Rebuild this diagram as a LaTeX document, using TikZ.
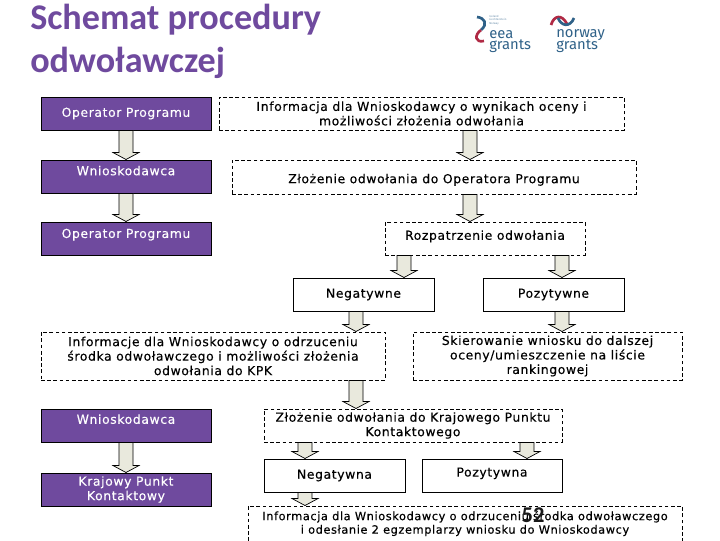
\documentclass[tikz,border=0pt]{standalone}
\usepackage{fontspec}
\usepackage{tikz}
\usetikzlibrary{arrows.meta,calc}
\setmainfont[LetterSpace=5,FakeBold=0.25]{DejaVu Sans}
\newfontfamily\titlefont{Carlito}
\newfontfamily\logofont{Fira Sans}
\definecolor{schematpurple}{HTML}{6F4A9E}
\definecolor{arrowfill}{HTML}{E9E9DD}
\definecolor{logoblue}{HTML}{2F6188}
\definecolor{logored}{HTML}{B02A45}
\tikzset{
    boxsize/.style 2 args={minimum width=#1*0.025cm, minimum height=#2*0.025cm},
    basebox/.style={inner sep=0pt, align=center, font=\fontsize{8.8}{10.3}\selectfont, line width=0.7pt},
    purplebox/.style={basebox, draw=black, fill=schematpurple, text=white},
    dashbox/.style={basebox, draw=black, fill=white, dash pattern=on 2.6pt off 1.8pt},
    plainbox/.style={basebox, draw=black, fill=white},
    raised/.style={text height=6pt, text depth=#1},
    lowered/.style={text height=#1, text depth=0pt},
    blockarrow/.style={draw=black, fill=arrowfill, line width=0.5pt, line join=miter,
        to path={-- ($(\tikztostart)+(-7,0)$)
                 -- ($(\tikztotarget)+(-7,-7)$)
                 -- ($(\tikztotarget)+(-13,-7)$)
                 -- (\tikztotarget)
                 -- ($(\tikztotarget)+(13,-7)$)
                 -- ($(\tikztotarget)+(7,-7)$)
                 -- ($(\tikztostart)+(7,0)$)
                 -- cycle}},
    logotext/.style={text=logoblue, font=\logofont\fontsize{10.5}{9}\selectfont, anchor=base west, inner sep=0pt}
}

\begin{document}
\begin{tikzpicture}[x=0.025cm, y=-0.025cm]
    \clip (0,0) rectangle (720,540);

    % Tytuł
    \node[anchor=base west, inner sep=0pt, align=left, text=schematpurple,
          font=\titlefont\bfseries\fontsize{25.7}{30}\selectfont] (title) at (30,72)
          {Schemat procedury\\odwoławczej};

    % Logo
    \draw[logoblue, line width=1.9pt] (477,17) .. controls (485,18) and (488,24) .. (481,30);
    \draw[logored, line width=1.9pt] (481,30) .. controls (474,35) and (475,43) .. (484,41);
    \node[logotext, text=logoblue!70, font=\logofont\fontsize{2}{2.4}\selectfont, align=left, anchor=north west] (logosmall) at (489,15)
          {Iceland\\Liechtenstein\\Norway};
    \node[logotext] (eea) at (489,38) {eea};
    \node[logotext] (eeagrants) at (489,49) {grants};
    \draw[logored, line width=1.9pt] (551,25) .. controls (554,15) and (562,14) .. (567,24);
    \draw[logoblue, line width=1.9pt] (558,18) .. controls (561,26) and (570,28) .. (574,18);
    \node[logotext] (norway) at (556,37) {norway};
    \node[logotext] (norwaygrants) at (556,49) {grants};

    % Lewa kolumna
    \node[purplebox, boxsize={170}{33}] (op1) at (126,113.5) {Operator Programu};
    \node[purplebox, boxsize={170}{33}, raised=7.8pt] (wn1) at (126,176.5) {Wnioskodawca};
    \node[purplebox, boxsize={170}{33}, raised=6.8pt] (op2) at (126,238.5) {Operator Programu};
    \node[purplebox, boxsize={170}{33}, raised=8.5pt] (wn2) at (126,425.5) {Wnioskodawca};
    \node[purplebox, boxsize={170}{33}] (kpk) at (126,489.5) {Krajowy Punkt\\Kontaktowy};

    % Etapy odwołania
    \node[dashbox, boxsize={405}{33}] (info) at (421.5,113.5)
          {Informacja dla Wnioskodawcy o wynikach oceny i\\możliwości złożenia odwołania};
    \node[dashbox, boxsize={404}{34}, lowered=8.8pt] (zlozenie) at (434,177) {Złożenie odwołania do Operatora Programu};
    \node[dashbox, boxsize={200}{33}, raised=4.2pt] (rozpatrzenie) at (485,238.5) {Rozpatrzenie odwołania};
    \node[plainbox, boxsize={141}{33}] (negatywne) at (363.5,294.5) {Negatywne};
    \node[plainbox, boxsize={141}{33}] (pozytywne) at (553.5,294.5) {Pozytywne};
    \node[dashbox, boxsize={344}{48}] (odrzucenie) at (213,356)
          {Informacje dla Wnioskodawcy o odrzuceniu\\środka odwoławczego i możliwości złożenia\\odwołania do KPK};
    \node[dashbox, boxsize={269}{48}] (skierowanie) at (547.5,356)
          {Skierowanie wniosku do dalszej\\oceny/umieszczenie na liście\\rankingowej};
    \node[dashbox, boxsize={298}{33}] (krajowy) at (413,425.5)
          {Złożenie odwołania do Krajowego Punktu\\Kontaktowego};
    \node[plainbox, boxsize={141}{33}] (negatywna) at (334.5,475.5) {Negatywna};
    \node[plainbox, boxsize={140}{33}, raised=4.5pt] (pozytywna) at (492,475.5) {Pozytywna};
    \node[dashbox, boxsize={434}{35}, font=\fontsize{8.1}{9.6}\selectfont] (odeslanie) at (465,523.5)
          {Informacja dla Wnioskodawcy o odrzuceniu środka odwoławczego\\i odesłanie 2 egzemplarzy wniosku do Wnioskodawcy};

    % Numer strony
    \node[inner sep=0pt, text=black!90, font=\titlefont\bfseries\fontsize{16}{16}\selectfont] (nr) at (533,515) {52};

    % Strzałki
    \draw[blockarrow] (op1.south) to (wn1.north);
    \draw[blockarrow] (wn1.south) to (op2.north);
    \draw[blockarrow] (wn2.south) to (kpk.north);
    \draw[blockarrow] (470,0 |- info.south) to (470,0 |- zlozenie.north);
    \draw[blockarrow] (470,0 |- zlozenie.south) to (470,0 |- rozpatrzenie.north);
    \draw[blockarrow] (404,0 |- rozpatrzenie.south) to (404,0 |- negatywne.north);
    \draw[blockarrow] (562,0 |- rozpatrzenie.south) to (562,0 |- pozytywne.north);
    \draw[blockarrow] (562,0 |- pozytywne.south) to (562,0 |- skierowanie.north);
    \draw[blockarrow] (356,0 |- negatywne.south) to (356,0 |- odrzucenie.north);
    \draw[blockarrow] (356,0 |- odrzucenie.south) to (356,0 |- krajowy.north);
    \draw[blockarrow] (305,0 |- krajowy.south) to (305,0 |- negatywna.north);
    \draw[blockarrow] (527,0 |- krajowy.south) to (527,0 |- pozytywna.north);
    \draw[blockarrow] (305,0 |- negatywna.south) to (305,0 |- odeslanie.north);
\end{tikzpicture}
\end{document}
